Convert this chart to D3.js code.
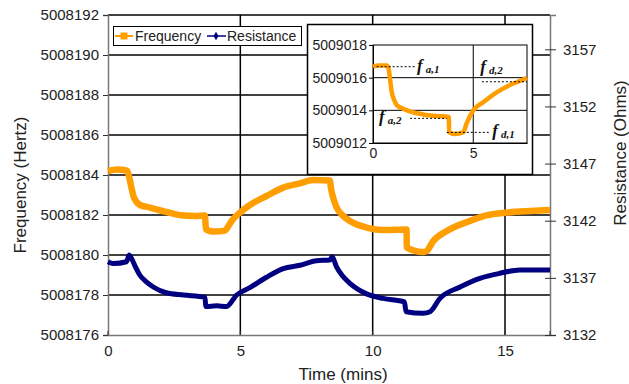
<!DOCTYPE html>
<html>
<head>
<meta charset="utf-8">
<script src="https://cdn.jsdelivr.net/npm/d3@7"></script>
<style>
body { margin: 0; background: #fff; }
svg text { font-family: "Liberation Sans", Arial, sans-serif; }
</style>
</head>
<body>
<div id="chart"></div>
<script>
// main chart data
const freqTime = [0, 0.33, 0.72, 0.8, 0.88, 0.96, 1.08, 1.21, 1.59, 2.22, 2.85, 3.3, 3.66, 3.7, 3.98, 4.43, 4.55, 4.7, 4.99, 5.36, 5.99, 6.62, 7.25, 7.75, 8.38, 8.43, 8.5, 8.63, 8.85, 9.14, 9.77, 10.4, 11.28, 11.29, 11.91, 12.04, 12.29, 12.8, 13.67, 14.3, 15.06, 15.94, 16.7];
const freqValues = [5008184.2, 5008184.28, 5008184.22, 5008183.9, 5008183.4, 5008182.95, 5008182.65, 5008182.5, 5008182.37, 5008182.15, 5008181.97, 5008181.95, 5008181.98, 5008181.28, 5008181.17, 5008181.22, 5008181.45, 5008181.75, 5008182.12, 5008182.5, 5008182.95, 5008183.37, 5008183.58, 5008183.75, 5008183.72, 5008183.3, 5008182.9, 5008182.4, 5008182.0, 5008181.7, 5008181.37, 5008181.25, 5008181.28, 5008180.37, 5008180.15, 5008180.2, 5008180.7, 5008181.2, 5008181.7, 5008181.98, 5008182.12, 5008182.2, 5008182.25];

const resTime = [0, 0.2, 0.7, 0.8, 0.89, 1.05, 1.2, 1.45, 1.71, 2.2, 2.85, 3.66, 3.7, 4.1, 4.48, 4.86, 5.36, 5.99, 6.62, 7.25, 7.88, 8.38, 8.47, 8.63, 8.85, 9.14, 9.77, 10.4, 11.2, 11.26, 11.91, 12.17, 12.54, 13.3, 14.05, 14.81, 15.56, 16.7];
const resValues = [3138.41, 3138.25, 3138.41, 3139.0, 3138.7, 3137.9, 3137.25, 3136.65, 3136.2, 3135.7, 3135.5, 3135.3, 3134.5, 3134.55, 3134.5, 3135.5, 3136.15, 3137.05, 3137.8, 3138.1, 3138.5, 3138.56, 3138.85, 3137.98, 3137.2, 3136.52, 3135.6, 3135.2, 3134.9, 3134.04, 3133.9, 3134.04, 3135.2, 3136.2, 3136.96, 3137.4, 3137.69, 3137.69];

const xTicks = [0, 5, 10, 15];
const freqTicks = [5008176, 5008178, 5008180, 5008182, 5008184, 5008186, 5008188, 5008190, 5008192];
const resTicks = [3132, 3137, 3142, 3147, 3152, 3157];

// inset data
const insetTime = [0, 0.3, 0.68, 0.77, 0.85, 0.93, 1.05, 1.18, 1.5, 1.8, 2.5, 3.17, 3.78, 3.8, 4.08, 4.5, 4.67, 5.0, 5.5, 6.17, 6.83, 7.33, 7.68];
const insetValues = [5009016.67, 5009016.75, 5009016.75, 5009016.6, 5009015.9, 5009015.14, 5009014.65, 5009014.33, 5009014.1, 5009013.95, 5009013.75, 5009013.65, 5009013.6, 5009012.65, 5009012.55, 5009012.65, 5009013.2, 5009014.0, 5009014.5, 5009015.1, 5009015.55, 5009015.8, 5009016.0];
const insetXTicks = [0, 5];
const insetYTicks = [5009012, 5009014, 5009016, 5009018];

// level annotations: [x0, x1, value, labelX, labelValue, sub]
const annoLines = [
  [0.18, 2.1, 5009016.67, 2.2, 5009016.67, "a,1"],
  [1.85, 3.68, 5009013.51, 0.3, 5009013.51, "a,2"],
  [3.68, 5.77, 5009012.65, 5.95, 5009012.65, "d,1"],
  [5.43, 7.68, 5009015.75, 5.35, 5009016.6, "d,2"]
];

const W = 629, H = 384;
const orange = "#FF9E00", navy = "#000080";

const svg = d3.select("#chart").append("svg")
  .attr("width", W).attr("height", H);

const x = d3.scaleLinear().domain([0, 16.7]).range([108, 550]);
const y = d3.scaleLinear().domain([5008176, 5008192]).range([335, 15]);
const yR = d3.scaleLinear().domain([3132, 3160]).range([335, 15]);

// grid
svg.append("g").selectAll("line").data(freqTicks.slice(1))
  .join("line")
  .attr("x1", 108).attr("x2", 550)
  .attr("y1", d => y(d)).attr("y2", d => y(d))
  .attr("stroke", "#000").attr("stroke-width", 1.5);
svg.append("g").selectAll("line").data(xTicks.slice(1))
  .join("line")
  .attr("x1", d => x(d)).attr("x2", d => x(d))
  .attr("y1", 15).attr("y2", 335)
  .attr("stroke", "#000").attr("stroke-width", 1.5);

// axes
const gL = svg.append("g").attr("transform", "translate(108,0)")
  .call(d3.axisLeft(y).tickValues(freqTicks).tickFormat(d3.format("d")).tickSize(5).tickPadding(4));
const gB = svg.append("g").attr("transform", "translate(0,335)")
  .call(d3.axisBottom(x).tickValues(xTicks).tickSize(0).tickPadding(10));
const gR = svg.append("g").attr("transform", "translate(550,0)")
  .call(d3.axisRight(yR).tickValues(resTicks).tickFormat(d3.format("d")).tickSize(6).tickPadding(7));
gR.selectAll(".tick line").attr("x1", -5);
[gL, gB, gR].forEach(g => {
  g.select(".domain").attr("stroke", "#777").attr("stroke-width", 1.5);
  g.selectAll(".tick line").attr("stroke", "#333");
  g.selectAll(".tick text").attr("font-size", 15).attr("fill", "#222")
    .style("font-family", "'Liberation Sans', Arial, sans-serif");
});
// bottom axis small ticks inside
svg.append("g").selectAll("line").data(xTicks.concat([16.7]))
  .join("line")
  .attr("x1", d => x(d)).attr("x2", d => x(d))
  .attr("y1", 331).attr("y2", 335)
  .attr("stroke", "#333");

// lines
const freqLine = d3.line().curve(d3.curveMonotoneX).x((d, i) => x(freqTime[i])).y(d => y(d));
const resLine = d3.line().curve(d3.curveMonotoneX).x((d, i) => x(resTime[i])).y(d => yR(d));
svg.append("path").datum(freqValues)
  .attr("d", freqLine).attr("fill", "none")
  .attr("stroke", orange).attr("stroke-width", 6.5).attr("stroke-linejoin", "round");
svg.append("path").datum(resValues)
  .attr("d", resLine).attr("fill", "none")
  .attr("stroke", navy).attr("stroke-width", 5).attr("stroke-linejoin", "round");

// axis titles
svg.append("text").attr("x", 343).attr("y", 380).attr("text-anchor", "middle")
  .attr("font-size", 17).attr("fill", "#222").text("Time (mins)");
svg.append("text").attr("transform", "translate(26,185) rotate(-90)").attr("text-anchor", "middle")
  .attr("font-size", 17).attr("fill", "#222").text("Frequency (Hertz)");
svg.append("text").attr("transform", "translate(626,153) rotate(-90)").attr("text-anchor", "middle")
  .attr("font-size", 17).attr("fill", "#222").text("Resistance (Ohms)");

// legend
const leg = svg.append("g");
leg.append("rect").attr("x", 113.5).attr("y", 26.5).attr("width", 188).attr("height", 19)
  .attr("fill", "#fff").attr("stroke", "#000");
leg.append("line").attr("x1", 115).attr("x2", 133).attr("y1", 36).attr("y2", 36)
  .attr("stroke", orange).attr("stroke-width", 2);
leg.append("rect").attr("x", 120.5).attr("y", 32.5).attr("width", 7).attr("height", 7).attr("fill", orange);
leg.append("text").attr("x", 135).attr("y", 41).attr("font-size", 14).attr("fill", "#222").text("Frequency");
leg.append("line").attr("x1", 207).attr("x2", 226).attr("y1", 36).attr("y2", 36)
  .attr("stroke", navy).attr("stroke-width", 1.5);
leg.append("path").attr("d", d3.symbol(d3.symbolDiamond, 22)()).attr("transform", "translate(216,36)").attr("fill", navy);
leg.append("text").attr("x", 227).attr("y", 41).attr("font-size", 14).attr("fill", "#222").text("Resistance");

// inset
const inset = svg.append("g");
inset.append("rect").attr("x", 307.5).attr("y", 24.5).attr("width", 225).attr("height", 150)
  .attr("fill", "#fff").attr("stroke", "#000").attr("stroke-width", 1.5);
const ix = d3.scaleLinear().domain([0, 7.68]).range([373, 527]);
const iy = d3.scaleLinear().domain([5009012, 5009018]).range([143, 45]);

inset.append("g").selectAll("line").data(insetYTicks.slice(1, 3))
  .join("line")
  .attr("x1", 373).attr("x2", 527).attr("y1", d => iy(d)).attr("y2", d => iy(d))
  .attr("stroke", "#000").attr("stroke-width", 1);
inset.append("g").selectAll("line").data(insetXTicks.slice(1))
  .join("line")
  .attr("x1", d => ix(d)).attr("x2", d => ix(d)).attr("y1", 45).attr("y2", 143)
  .attr("stroke", "#000").attr("stroke-width", 1);
inset.append("rect").attr("x", 373).attr("y", 45).attr("width", 154).attr("height", 98)
  .attr("fill", "none").attr("stroke", "#000").attr("stroke-width", 1);

const iL = inset.append("g").attr("transform", "translate(373,0)")
  .call(d3.axisLeft(iy).tickValues(insetYTicks).tickFormat(d3.format("d")).tickSize(4).tickPadding(2));
const iB = inset.append("g").attr("transform", "translate(0,143)")
  .call(d3.axisBottom(ix).tickValues(insetXTicks).tickSize(0).tickPadding(5));
[iL, iB].forEach(g => {
  g.select(".domain").attr("stroke", "#000");
  g.selectAll(".tick text").attr("font-size", 14).attr("fill", "#222")
    .style("font-family", "'Liberation Sans', Arial, sans-serif");
});

const insetLine = d3.line().curve(d3.curveMonotoneX).x((d, i) => ix(insetTime[i])).y(d => iy(d));
inset.append("path").datum(insetValues)
  .attr("d", insetLine).attr("fill", "none")
  .attr("stroke", orange).attr("stroke-width", 4.5).attr("stroke-linejoin", "round");

// annotation dotted lines and labels
inset.append("g").selectAll("line").data(annoLines)
  .join("line")
  .attr("x1", d => ix(d[0])).attr("x2", d => ix(d[1]))
  .attr("y1", d => iy(d[2])).attr("y2", d => iy(d[2]))
  .attr("stroke", "#000").attr("stroke-width", 1).attr("stroke-dasharray", "2,2");
const lab = inset.append("g").selectAll("text").data(annoLines)
  .join("text")
  .attr("x", d => ix(d[3])).attr("y", d => iy(d[4]) + 4)
  .style("font-family", "'Liberation Serif', 'DejaVu Serif', serif")
  .attr("font-style", "italic").attr("font-weight", "bold").attr("fill", "#111");
lab.append("tspan").attr("font-size", 17).text("f");
lab.append("tspan").attr("font-size", 11).attr("dx", 3).attr("dy", 2).text(d => d[5]);
</script>
</body>
</html>
